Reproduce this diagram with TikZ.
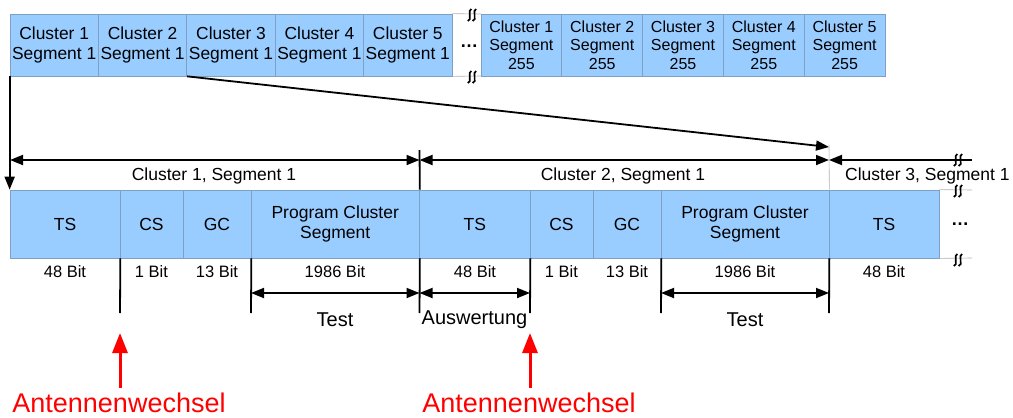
\documentclass[tikz,border=0pt]{standalone}
\usepackage{fontspec}
\setmainfont{Liberation Sans}
\usetikzlibrary{arrows.meta}
\definecolor{cellfill}{HTML}{99CCFF}
\definecolor{celledge}{HTML}{7F9FC4}
\definecolor{thingrey}{HTML}{B0B0B0}
\definecolor{alarm}{HTML}{FF0000}
\tikzset{
  cell/.style={draw=celledge, line width=0.7pt, fill=cellfill, inner sep=0pt, align=center},
  topcell/.style={cell, minimum width=88.4pt, minimum height=62pt, font=\fontsize{17.4}{20}\selectfont},
  farcell/.style={cell, minimum width=80.8pt, minimum height=62pt, font=\fontsize{16}{18.5}\selectfont},
  rowcell/.style={cell, minimum height=68pt, font=\fontsize{17.5}{20}\selectfont},
  dimline/.style={line width=1.8pt, >={Triangle[length=13pt,width=10pt]}},
  tick/.style={line width=1.8pt},
  hair/.style={draw=thingrey, line width=0.6pt},
  seglabel/.style={font=\fontsize{17.5}{20}\selectfont, inner sep=0pt},
  bitlabel/.style={font=\fontsize{16.5}{19}\selectfont, inner sep=0pt},
  spanlabel/.style={font=\fontsize{20}{23}\selectfont, inner sep=0pt},
  alarmlabel/.style={font=\fontsize{27}{30}\selectfont, text=alarm, inner sep=0pt},
  alarmarrow/.style={draw=alarm, line width=3pt, -{Triangle[length=20pt,width=15pt]}},
  dotsmark/.style={font=\bfseries\fontsize{18}{20}\selectfont, inner sep=0pt},
  brk/.pic={
    \draw[line width=1.7pt] (-0.6,-6) .. controls (-5,-6) and (0.8,6) .. (-4.2,6);
    \draw[line width=1.7pt] (4.2,-6) .. controls (-0.2,-6) and (5.6,6) .. (0.6,6);
  }
}
\begin{document}
\begin{tikzpicture}[x=1pt,y=-1pt]
\useasboundingbox (0,0) rectangle (1013,418);

% ---- top: sequence of cluster segments ----
\node[topcell] (c1) at (54.2,45)  {Cluster 1\\Segment 1};
\node[topcell] (c2) at (142.6,45) {Cluster 2\\Segment 1};
\node[topcell] (c3) at (231.0,45) {Cluster 3\\Segment 1};
\node[topcell] (c4) at (319.4,45) {Cluster 4\\Segment 1};
\node[topcell] (c5) at (407.8,45) {Cluster 5\\Segment 1};

\draw[hair] (c5.north east) -- (481,14);
\draw[hair] (c5.south east) -- (481,76);
\node[dotsmark] (topdots) at (469,46) {\dots};
\pic at (472,15) {brk};
\pic at (472,77) {brk};

\node[farcell] (d1) at (521.4,45) {Cluster 1\\Segment\\255};
\node[farcell] (d2) at (602.2,45) {Cluster 2\\Segment\\255};
\node[farcell] (d3) at (683.0,45) {Cluster 3\\Segment\\255};
\node[farcell] (d4) at (763.8,45) {Cluster 4\\Segment\\255};
\node[farcell] (d5) at (844.6,45) {Cluster 5\\Segment\\255};

% ---- bottom: bit layout of the segments ----
\node[rowcell, minimum width=110pt]   (ts1)  at (65,224)     {TS};
\node[rowcell, minimum width=63pt]    (cs1)  at (151.5,224)  {CS};
\node[rowcell, minimum width=68pt]    (gc1)  at (217,224)    {GC};
\node[rowcell, minimum width=168.5pt] (pcs1) at (335.25,224) {Program Cluster\\Segment};
\node[rowcell, minimum width=110.5pt] (ts2)  at (474.75,224) {TS};
\node[rowcell, minimum width=63pt]    (cs2)  at (561.5,224)  {CS};
\node[rowcell, minimum width=68pt]    (gc2)  at (627,224)    {GC};
\node[rowcell, minimum width=168pt]   (pcs2) at (745,224)    {Program Cluster\\Segment};
\node[rowcell, minimum width=110pt]   (ts3)  at (884,224)    {TS};

\draw[hair] (ts3.north east) -- (972,190);
\draw[hair] (ts3.south east) -- (972,258);
\node[dotsmark] (rowdots) at (960,224) {\dots};
\pic at (958,191) {brk};
\pic at (958,260) {brk};

% ---- mapping from the sequence to the bit layout ----
\coordinate (seg2end) at (829,147);
\draw[dimline,->] (c1.south west) -- (ts1.north west);
\draw[dimline,->] (c2.south east) -- (seg2end);

% ---- segment spans ----
\coordinate (s0) at (10,160);
\coordinate (s1) at (419.5,160);
\coordinate (s2) at (829,160);
\coordinate (s3) at (972,160);
\draw[dimline,<->] (s0) -- (s1);
\draw[dimline,<->] (s1) -- (s2);
\draw[dimline,<-] (s2) -- (s3);
\pic at (958,160) {brk};
\draw[tick] (419.5,150) -- (pcs1.north east);
\draw[hair] (829,145) -- (pcs2.north east);

\node[seglabel] (l1) at (214,176) {Cluster 1, Segment 1};
\node[seglabel] (l2) at (623,176) {Cluster 2, Segment 1};
\node[seglabel, anchor=west] (l3) at (845,176) {Cluster 3, Segment 1};

% ---- bit widths ----
\node[bitlabel] at (65,272)    {48 Bit};
\node[bitlabel] at (151.5,272) {1 Bit};
\node[bitlabel] at (217,272)   {13 Bit};
\node[bitlabel] at (335,272)   {1986 Bit};
\node[bitlabel] at (475,272)   {48 Bit};
\node[bitlabel] at (561.5,272) {1 Bit};
\node[bitlabel] at (627,272)   {13 Bit};
\node[bitlabel] at (745,272)   {1986 Bit};
\node[bitlabel] at (884,272)   {48 Bit};

% ---- test and evaluation windows ----
\coordinate (k1) at (120,313);
\coordinate (k2) at (251,313);
\coordinate (k3) at (419.5,313);
\coordinate (k4) at (530,313);
\coordinate (k5) at (661,313);
\coordinate (k6) at (829,313);
\draw[tick] (ts1.south east) -- (k1);
\draw[tick] (gc1.south east) -- (k2);
\draw[tick] (pcs1.south east) -- (k3);
\draw[tick] (ts2.south east) -- (k4);
\draw[tick] (gc2.south east) -- (k5);
\draw[tick] (pcs2.south east) -- (k6);

\coordinate (w1) at (251,293);
\coordinate (w2) at (419.5,293);
\coordinate (w3) at (530,293);
\coordinate (w4) at (661,293);
\coordinate (w5) at (829,293);
\draw[dimline,<->] (w1) -- (w2);
\draw[dimline,<->] (w2) -- (w3);
\draw[dimline,<->] (w4) -- (w5);

\node[spanlabel] (t1) at (335,320)   {Test};
\node[spanlabel] (t2) at (474.5,320) {Auswertung};
\node[spanlabel] (t3) at (745,320)   {Test};

% ---- antenna switch markers ----
\node[alarmlabel] (a1) at (119,403) {Antennenwechsel};
\node[alarmlabel] (a2) at (529,403) {Antennenwechsel};
\coordinate (a1top) at (120,333);
\coordinate (a2top) at (530,333);
\draw[alarmarrow] (120,388) -- (a1top);
\draw[alarmarrow] (530,388) -- (a2top);
\end{tikzpicture}
\end{document}
